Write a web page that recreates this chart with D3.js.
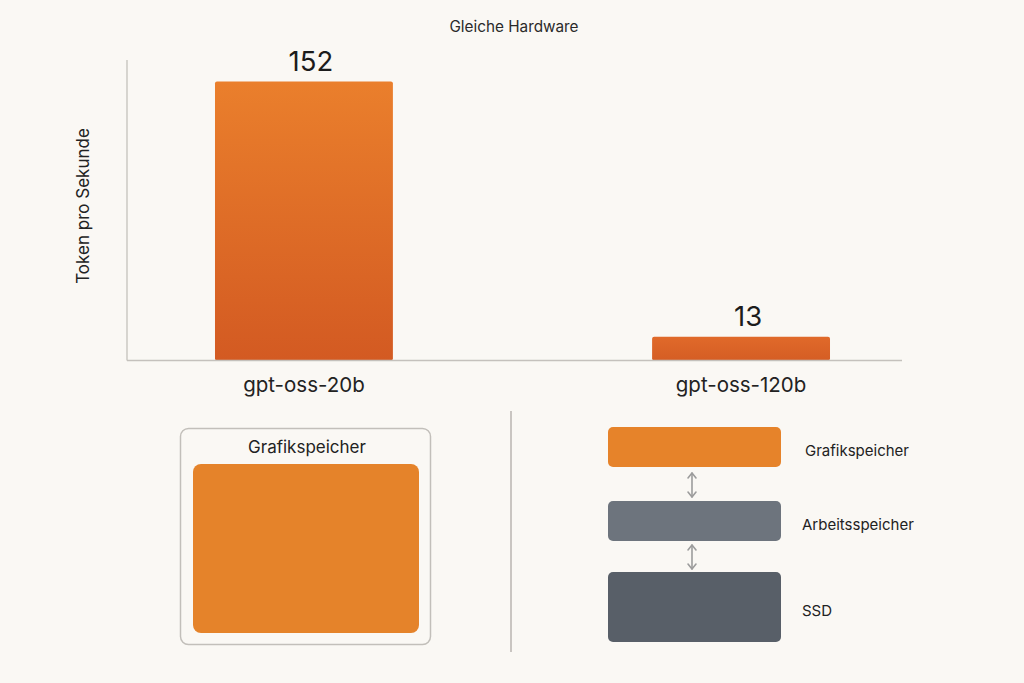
<!DOCTYPE html>
<html>
<head>
<meta charset="utf-8">
<script src="https://cdn.jsdelivr.net/npm/d3@7"></script>
<style>
  html, body { margin: 0; padding: 0; background: #faf8f4; }
  svg { display: block; font-family: "Inter", "Roboto", sans-serif; }
</style>
</head>
<body>
<svg id="chart" width="1024" height="683"></svg>
<script>
// bar chart data
const models = ["gpt-oss-20b", "gpt-oss-120b"];
const tokensPerSec = [152, 13];

// memory diagrams
const leftBoxTitle = "Grafikspeicher";
const tiers = ["Grafikspeicher", "Arbeitsspeicher", "SSD"];

const svg = d3.select("#chart");
const W = 1024, H = 683;

svg.append("rect").attr("width", W).attr("height", H).attr("fill", "#faf8f4");

const defs = svg.append("defs");
const grad = defs.append("linearGradient").attr("id", "barGrad")
    .attr("x1", 0).attr("y1", 0).attr("x2", 0).attr("y2", 1);
grad.append("stop").attr("offset", "0%").attr("stop-color", "#ea7f2c");
grad.append("stop").attr("offset", "100%").attr("stop-color", "#d35a22");
const grad2 = defs.append("linearGradient").attr("id", "barGrad2")
    .attr("x1", 0).attr("y1", 0).attr("x2", 0).attr("y2", 1);
grad2.append("stop").attr("offset", "0%").attr("stop-color", "#e06a2a");
grad2.append("stop").attr("offset", "100%").attr("stop-color", "#d55d24");

// ---- top: bar chart ----
const m = { left: 127, right: 902, top: 60, base: 360.5 };

const x = d3.scaleBand().domain(models)
    .range([m.left, m.right])
    .paddingInner(0.593).paddingOuter(0.183).align(0.55);
const y = d3.scaleLinear().domain([0, 152]).range([m.base, 81.5]);

svg.append("text")
    .attr("x", 514).attr("y", 32)
    .attr("text-anchor", "middle")
    .attr("font-size", 15.3).attr("fill", "#2a2a2a")
    .text("Gleiche Hardware");

// axis lines
svg.append("line").attr("x1", m.left).attr("x2", m.left)
    .attr("y1", m.top).attr("y2", m.base)
    .attr("stroke", "#c4c1bc").attr("stroke-width", 1.3);

svg.append("text")
    .attr("transform", `translate(89,206) rotate(-90)`)
    .attr("text-anchor", "middle")
    .attr("font-size", 17).attr("fill", "#222")
    .text("Token pro Sekunde");

const data = models.map((d, i) => ({ model: d, value: tokensPerSec[i] }));

svg.selectAll(".bar").data(data).enter().append("rect")
    .attr("class", "bar")
    .attr("x", d => x(d.model))
    .attr("width", x.bandwidth())
    .attr("y", d => y(d.value))
    .attr("height", d => y(0) - y(d.value))
    .attr("rx", 2)
    .attr("fill", (d, i) => i === 0 ? "url(#barGrad)" : "url(#barGrad2)");

svg.append("line").attr("x1", m.left).attr("x2", m.right)
    .attr("y1", m.base).attr("y2", m.base)
    .attr("stroke", "#c4c1bc").attr("stroke-width", 1.3);

svg.selectAll(".val").data(data).enter().append("text")
    .attr("class", "val")
    .attr("x", d => x(d.model) + x.bandwidth() / 2 + 7)
    .attr("y", d => y(d.value) - 11)
    .attr("text-anchor", "middle")
    .attr("font-size", 27.5).attr("fill", "#1c1c1c")
    .text(d => d.value);

svg.append("g")
    .attr("transform", `translate(0,${m.base})`)
    .call(d3.axisBottom(x).tickSize(0).tickPadding(0))
    .call(g => g.select(".domain").remove())
    .call(g => g.selectAll("text")
        .attr("y", 31).attr("dy", 0)
        .attr("font-family", "Inter, Roboto, sans-serif")
        .attr("font-size", 20.5).attr("fill", "#222"));

// ---- bottom left: single memory box ----
svg.append("rect")
    .attr("x", 180.5).attr("y", 428.5).attr("width", 250).attr("height", 216)
    .attr("rx", 8).attr("fill", "none")
    .attr("stroke", "#c2bfba").attr("stroke-width", 1.5);
svg.append("text")
    .attr("x", 307).attr("y", 453)
    .attr("text-anchor", "middle")
    .attr("font-size", 17).attr("fill", "#222")
    .text(leftBoxTitle);
svg.append("rect")
    .attr("x", 193).attr("y", 464).attr("width", 226).attr("height", 169)
    .attr("rx", 8).attr("fill", "#e5832a");

// divider
svg.append("line").attr("x1", 511).attr("x2", 511)
    .attr("y1", 411).attr("y2", 652)
    .attr("stroke", "#b8b5b0").attr("stroke-width", 1.5);

// ---- bottom right: memory hierarchy ----
const tierY = d3.scaleOrdinal().domain(tiers).range([427, 501, 572]);
const tierH = d3.scaleOrdinal().domain(tiers).range([40, 40, 70]);
const tierFill = d3.scaleOrdinal().domain(tiers).range(["#e6832a", "#6d747d", "#585f68"]);

svg.selectAll(".tier").data(tiers).enter().append("rect")
    .attr("class", "tier")
    .attr("x", 608).attr("width", 173)
    .attr("y", d => tierY(d)).attr("height", d => tierH(d))
    .attr("rx", 5)
    .attr("fill", d => tierFill(d));

svg.selectAll(".tierLabel").data(tiers).enter().append("text")
    .attr("class", "tierLabel")
    .attr("x", (d, i) => i === 0 ? 805 : 802)
    .attr("y", d => tierY(d) + tierH(d) / 2 + 8.5)
    .attr("font-size", 15).attr("fill", "#222")
    .text(d => d);

// double arrows between tiers
function dblArrow(cx, y1, y2) {
    const g = svg.append("g").attr("stroke", "#9c9c9c").attr("stroke-width", 1.6)
        .attr("fill", "none").attr("stroke-linecap", "round").attr("stroke-linejoin", "round");
    g.append("line").attr("x1", cx).attr("x2", cx).attr("y1", y1).attr("y2", y2);
    g.append("path").attr("d", `M${cx - 4},${y1 + 5} L${cx},${y1} L${cx + 4},${y1 + 5}`);
    g.append("path").attr("d", `M${cx - 4},${y2 - 5} L${cx},${y2} L${cx + 4},${y2 - 5}`);
}
dblArrow(692, 473, 497);
dblArrow(692, 545, 569);
</script>
</body>
</html>
